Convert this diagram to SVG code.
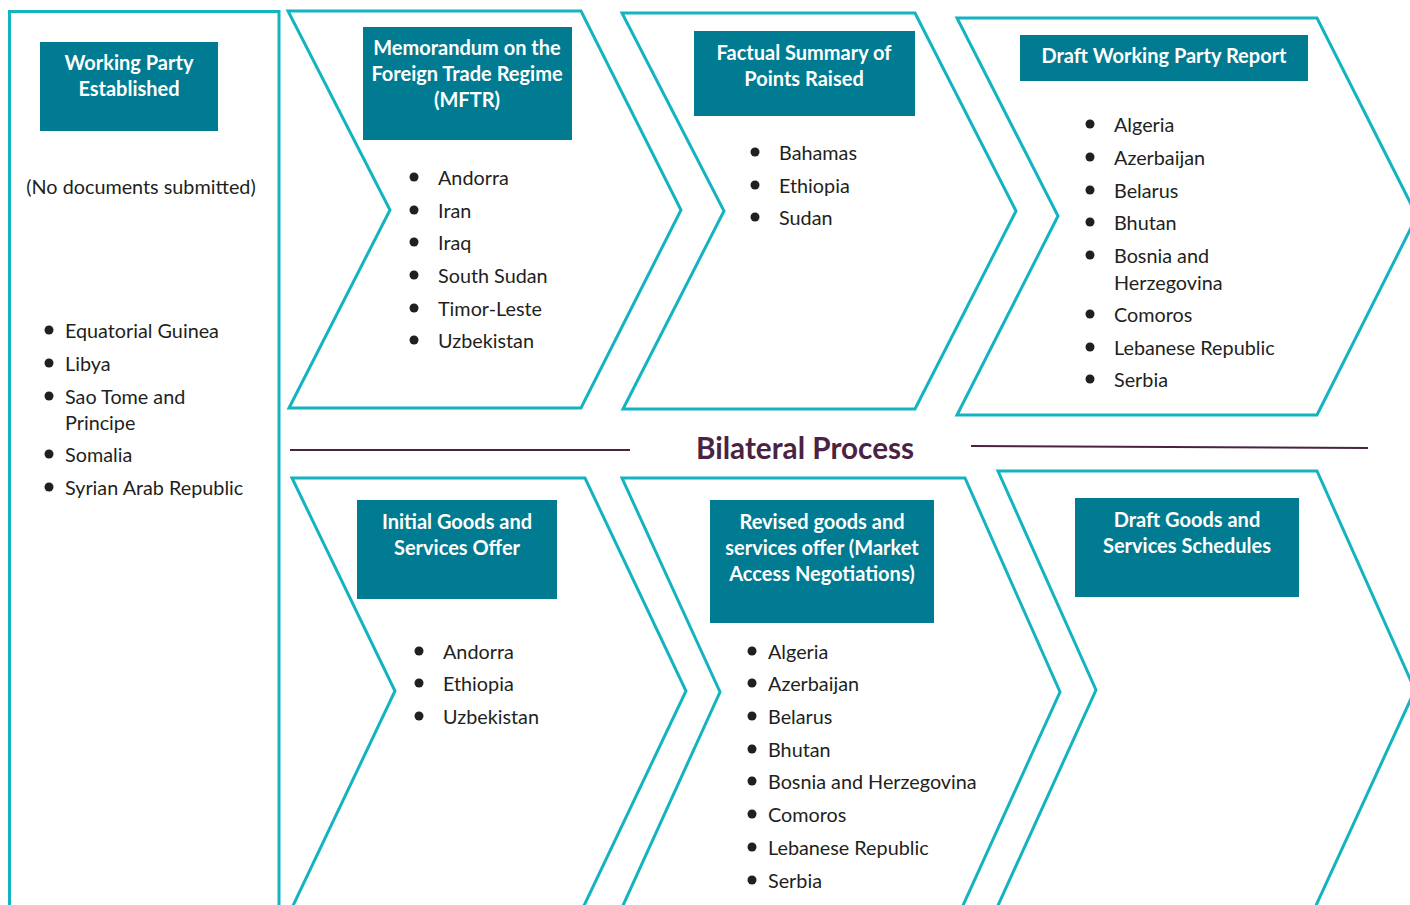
<svg xmlns="http://www.w3.org/2000/svg" width="1410" height="905" viewBox="0 0 1410 905">
<style>
.frame{fill:#fff;stroke:#13B4C0;stroke-width:3;stroke-linejoin:miter}
.hdr{fill:#007B91}
.ht{font-family:Lato,"Liberation Sans",sans-serif;font-weight:bold;font-size:20px;fill:#fff;text-anchor:middle}
.li{font-family:Lato,"Liberation Sans",sans-serif;font-size:19.8px;fill:#231F20}
.bul{fill:#231F20}
.sep{stroke:#4A2343;stroke-width:2;fill:none}
.title{font-family:Lato,"Liberation Sans",sans-serif;font-weight:bold;font-size:29.7px;fill:#4A2343;text-anchor:middle}
</style>
<rect width="1410" height="905" fill="#fff"/>
<g id="working-party">
<rect class="frame" x="9.5" y="11.5" width="269.5" height="920"/>
<rect class="hdr" x="40" y="42" width="178" height="89"/>
<text class="ht" x="129" y="70">Working Party</text>
<text class="ht" x="129" y="96">Established</text>
<text class="li" x="141" y="194" text-anchor="middle">(No documents submitted)</text>
<g class="bul"><circle cx="49" cy="330" r="4.5"/><circle cx="49" cy="363" r="4.5"/><circle cx="49" cy="396" r="4.5"/><circle cx="49" cy="454" r="4.5"/><circle cx="49" cy="487" r="4.5"/></g>
<text class="li" x="65" y="338">Equatorial Guinea</text>
<text class="li" x="65" y="371">Libya</text>
<text class="li" x="65" y="404">Sao Tome and</text>
<text class="li" x="65" y="430">Principe</text>
<text class="li" x="65" y="462">Somalia</text>
<text class="li" x="65" y="495">Syrian Arab Republic</text>
</g>
<g id="mftr">
<polygon class="frame" points="288,11 581,11 681,210 581,408 289,408 390,210"/>
<rect class="hdr" x="363" y="27" width="209" height="113"/>
<text class="ht" x="467" y="55">Memorandum on the</text>
<text class="ht" x="467" y="81">Foreign Trade Regime</text>
<text class="ht" x="467" y="107">(MFTR)</text>
<g class="bul"><circle cx="414" cy="177" r="4.5"/><circle cx="414" cy="210" r="4.5"/><circle cx="414" cy="242" r="4.5"/><circle cx="414" cy="275" r="4.5"/><circle cx="414" cy="308" r="4.5"/><circle cx="414" cy="340" r="4.5"/></g>
<text class="li" x="438" y="185">Andorra</text>
<text class="li" x="438" y="218">Iran</text>
<text class="li" x="438" y="250">Iraq</text>
<text class="li" x="438" y="283">South Sudan</text>
<text class="li" x="438" y="316">Timor-Leste</text>
<text class="li" x="438" y="348">Uzbekistan</text>
</g>
<g id="factual-summary">
<polygon class="frame" points="622,13 915,13 1016,211 915,409 623,409 724,211"/>
<rect class="hdr" x="694" y="31" width="221" height="85"/>
<text class="ht" x="804" y="60">Factual Summary of</text>
<text class="ht" x="804" y="86">Points Raised</text>
<g class="bul"><circle cx="755" cy="152" r="4.5"/><circle cx="755" cy="185" r="4.5"/><circle cx="755" cy="217" r="4.5"/></g>
<text class="li" x="779" y="160">Bahamas</text>
<text class="li" x="779" y="193">Ethiopia</text>
<text class="li" x="779" y="225">Sudan</text>
</g>
<g id="draft-wp-report">
<polygon class="frame" points="957,18 1317,18 1417,216 1317,415 957,415 1058,216"/>
<rect class="hdr" x="1020" y="35" width="288" height="46"/>
<text class="ht" x="1164" y="63">Draft Working Party Report</text>
<g class="bul"><circle cx="1090" cy="124" r="4.5"/><circle cx="1090" cy="157" r="4.5"/><circle cx="1090" cy="190" r="4.5"/><circle cx="1090" cy="222" r="4.5"/><circle cx="1090" cy="255" r="4.5"/><circle cx="1090" cy="314" r="4.5"/><circle cx="1090" cy="347" r="4.5"/><circle cx="1090" cy="379" r="4.5"/></g>
<text class="li" x="1114" y="132">Algeria</text>
<text class="li" x="1114" y="165">Azerbaijan</text>
<text class="li" x="1114" y="198">Belarus</text>
<text class="li" x="1114" y="230">Bhutan</text>
<text class="li" x="1114" y="263">Bosnia and</text>
<text class="li" x="1114" y="290">Herzegovina</text>
<text class="li" x="1114" y="322">Comoros</text>
<text class="li" x="1114" y="355">Lebanese Republic</text>
<text class="li" x="1114" y="387">Serbia</text>
</g>
<g id="bilateral-process">
<line class="sep" x1="290" y1="450" x2="630" y2="450"/>
<line class="sep" x1="971" y1="446" x2="1368" y2="448"/>
<text class="title" x="805" y="459">Bilateral Process</text>
</g>
<g id="initial-offer">
<polygon class="frame" points="292,478 585,478 686,691 581,912 290,912 395,691"/>
<rect class="hdr" x="357" y="500" width="200" height="99"/>
<text class="ht" x="457" y="529">Initial Goods and</text>
<text class="ht" x="457" y="555">Services Offer</text>
<g class="bul"><circle cx="419" cy="651" r="4.5"/><circle cx="419" cy="683" r="4.5"/><circle cx="419" cy="716" r="4.5"/></g>
<text class="li" x="443" y="659">Andorra</text>
<text class="li" x="443" y="691">Ethiopia</text>
<text class="li" x="443" y="724">Uzbekistan</text>
</g>
<g id="revised-offer">
<polygon class="frame" points="622,478 965,478 1060,692 960,912 620,912 720,692"/>
<rect class="hdr" x="710" y="500" width="224" height="123"/>
<text class="ht" x="822" y="529">Revised goods and</text>
<text class="ht" x="822" y="555">services offer (Market</text>
<text class="ht" x="822" y="581">Access Negotiations)</text>
<g class="bul"><circle cx="752" cy="651" r="4.5"/><circle cx="752" cy="683" r="4.5"/><circle cx="752" cy="716" r="4.5"/><circle cx="752" cy="749" r="4.5"/><circle cx="752" cy="781" r="4.5"/><circle cx="752" cy="814" r="4.5"/><circle cx="752" cy="847" r="4.5"/><circle cx="752" cy="880" r="4.5"/></g>
<text class="li" x="768" y="659">Algeria</text>
<text class="li" x="768" y="691">Azerbaijan</text>
<text class="li" x="768" y="724">Belarus</text>
<text class="li" x="768" y="757">Bhutan</text>
<text class="li" x="768" y="789">Bosnia and Herzegovina</text>
<text class="li" x="768" y="822">Comoros</text>
<text class="li" x="768" y="855">Lebanese Republic</text>
<text class="li" x="768" y="888">Serbia</text>
</g>
<g id="draft-schedules">
<polygon class="frame" points="998,471 1317,471 1415,690 1313,912 995,912 1096,690"/>
<rect class="hdr" x="1075" y="498" width="224" height="99"/>
<text class="ht" x="1187" y="527">Draft Goods and</text>
<text class="ht" x="1187" y="553">Services Schedules</text>
</g>
</svg>
